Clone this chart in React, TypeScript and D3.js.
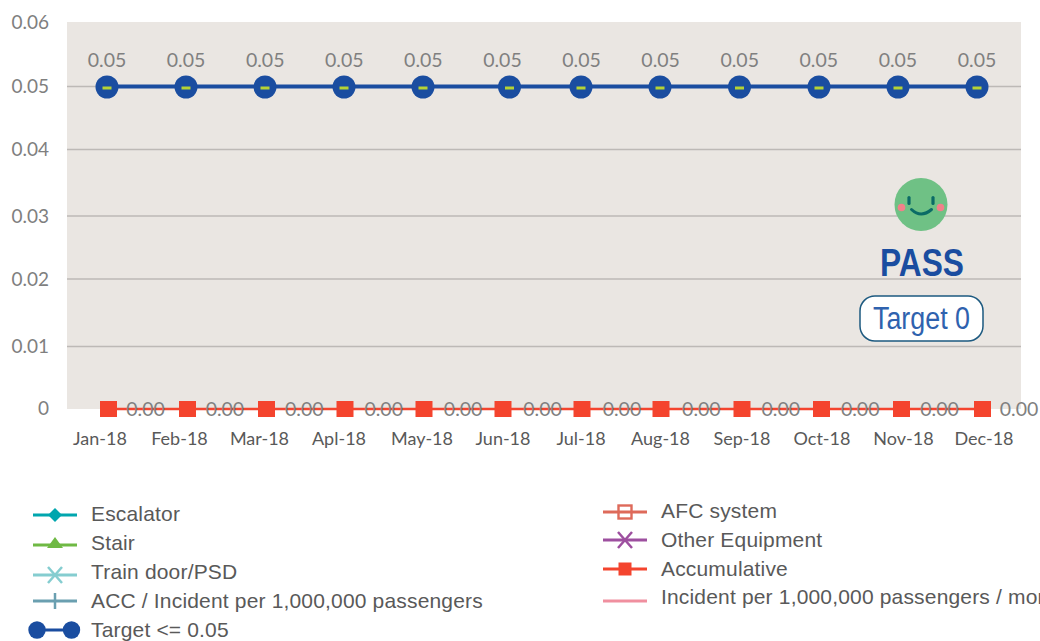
import React from 'react';
import * as d3 from 'd3';

const months = ['Jan-18', 'Feb-18', 'Mar-18', 'Apl-18', 'May-18', 'Jun-18', 'Jul-18', 'Aug-18', 'Sep-18', 'Oct-18', 'Nov-18', 'Dec-18'];
const targetValues = [0.05, 0.05, 0.05, 0.05, 0.05, 0.05, 0.05, 0.05, 0.05, 0.05, 0.05, 0.05];
const accumulativeValues = [0, 0, 0, 0, 0, 0, 0, 0, 0, 0, 0, 0];
const yTicks = [0, 0.01, 0.02, 0.03, 0.04, 0.05, 0.06];
const legendLeft = ['Escalator', 'Stair', 'Train door/PSD', 'ACC / Incident per 1,000,000 passengers', 'Target <= 0.05'];
const legendRight = ['AFC system', 'Other Equipment', 'Accumulative', 'Incident per 1,000,000 passengers / month'];

const axisFont = 'Lato, "Open Sans", sans-serif';
const legendFont = '"Liberation Sans", Arial, sans-serif';
const narrowFont = '"Liberation Sans Narrow", "Liberation Sans", sans-serif';

// the picture's gridlines and markers are not quite evenly spaced, so the scales carry the drift
const y = d3.scaleLinear().domain(yTicks).range([409, 346.5, 279, 216, 149.5, 86.5, 22]);
const xTarget = d3.scaleOrdinal<string, number>().domain(months).range([107, 186, 265, 344, 423, 509.5, 581, 660, 739.5, 819, 898, 977]);
const xTargetLabel = d3.scalePoint<string>().domain(months).range([107, 977]);
const xAccum = d3.scaleOrdinal<string, number>().domain(months).range([108.5, 187.5, 266.5, 345, 424, 503, 582, 661, 742, 821.5, 901.5, 982.5]);
const xAccumLabel = d3.scalePoint<string>().domain(months).range([145.5, 1019]);
const xMonth = d3.scaleOrdinal<string, number>().domain(months).range([100, 179.5, 259.5, 339, 422, 503, 581, 660.5, 742, 822, 903.5, 984]);

const lineTarget = d3.line<number>().x((_, i) => xTarget(months[i])).y(d => y(d));
const lineAccum = d3.line<number>().x((_, i) => xAccum(months[i])).y(d => y(d));

function LegendKey({ name, x0, cy }: { name: string; x0: number; cy: number }) {
  const x1 = x0 + 44;
  const cx = x0 + 22;
  const line = (color: string, width = 3) => <line x1={x0} x2={x1} y1={cy} y2={cy} stroke={color} strokeWidth={width} />;
  switch (name) {
    case 'Escalator':
      return <g>{line('#00a6ae')}<path d={`M${cx - 7},${cy}L${cx},${cy - 7}L${cx + 7},${cy}L${cx},${cy + 7}Z`} fill="#00a6ae" /></g>;
    case 'Stair':
      return <g>{line('#6fb944')}<path d={`M${cx - 8},${cy + 3}L${cx},${cy - 8}L${cx + 8},${cy + 3}Z`} fill="#6fb944" /></g>;
    case 'Train door/PSD':
      return <g>{line('#85cdd0')}<path d={`M${cx - 7},${cy - 8}L${cx + 7},${cy + 8}M${cx - 7},${cy + 8}L${cx + 7},${cy - 8}`} stroke="#85cdd0" strokeWidth={2.5} /></g>;
    case 'ACC / Incident per 1,000,000 passengers':
      return <g>{line('#6a9fb0')}<line x1={cx} x2={cx} y1={cy - 8} y2={cy + 8} stroke="#6a9fb0" strokeWidth={2.5} /></g>;
    case 'Target <= 0.05':
      return <g>{line('#1a4da0')}<circle cx={37} cy={cy} r={8.7} fill="#1a4da0" /><circle cx={71.5} cy={cy} r={8.7} fill="#1a4da0" /></g>;
    case 'AFC system':
      return <g>{line('#de6a5a')}<rect x={cx - 6.5} y={cy - 6.5} width={13} height={13} fill="none" stroke="#de6a5a" strokeWidth={2.4} /></g>;
    case 'Other Equipment':
      return <g>{line('#9d4f9f')}<path d={`M${cx - 7},${cy - 8}L${cx + 7},${cy + 8}M${cx - 7},${cy + 8}L${cx + 7},${cy - 8}`} stroke="#9d4f9f" strokeWidth={2.5} /></g>;
    case 'Accumulative':
      return <g>{line('#f4442e')}<rect x={cx - 6.5} y={cy - 6.5} width={13} height={13} fill="#f4442e" /></g>;
    default:
      return line('#f08f9f');
  }
}

export default function App() {
  return (
    <svg width={1040} height={641} style={{ position: 'absolute', left: 0, top: 0, background: '#fff' }}>
      <rect x={67} y={22} width={954} height={387} fill="#eae6e2" />

      {yTicks.filter(t => t > 0 && t < 0.06).map(t => (
        <line key={t} x1={67} x2={1021} y1={y(t)} y2={y(t)} stroke="#bdb9b6" strokeWidth={1.5} />
      ))}
      {yTicks.map(t => (
        <text key={t} x={49} y={y(t) + (t === 0 ? 5.5 : 6.5)} textAnchor="end" fontFamily={axisFont} fontSize={19} fill="#7f7f7f">
          {t === 0 ? '0' : d3.format('.2f')(t)}
        </text>
      ))}

      <path d={lineAccum(accumulativeValues)!} fill="none" stroke="#f4442e" strokeWidth={2.5} />
      {accumulativeValues.map((v, i) => (
        <g key={months[i]}>
          <rect x={xAccum(months[i]) - 8.5} y={y(v) - 8} width={17} height={16} fill="#f4442e" />
          <text x={xAccumLabel(months[i])!} y={y(v) + 6.5} textAnchor="middle" fontFamily={axisFont} fontSize={19.5} fill="#808080">
            {d3.format('.2f')(v)}
          </text>
        </g>
      ))}

      <path d={lineTarget(targetValues)!} fill="none" stroke="#1a4da0" strokeWidth={4} />
      {targetValues.map((v, i) => (
        <g key={months[i]}>
          <circle cx={xTarget(months[i])} cy={y(v) + 0.5} r={11.5} fill="#1a4da0" />
          <rect x={xTarget(months[i]) - 4.5} y={y(v)} width={9} height={3} fill="#b5d334" />
          <text x={xTargetLabel(months[i])!} y={y(v) - 20} textAnchor="middle" fontFamily={axisFont} fontSize={19.5} fill="#808080">
            {d3.format('.2f')(v)}
          </text>
        </g>
      ))}

      {months.map(m => (
        <text key={m} x={xMonth(m)} y={445} textAnchor="middle" fontFamily={axisFont} fontSize={18} fill="#595959">{m}</text>
      ))}

      {/* PASS badge */}
      <circle cx={921} cy={204.5} r={26.5} fill="#6fc185" />
      <circle cx={901.5} cy={207.5} r={3.8} fill="#f2808a" />
      <circle cx={940.5} cy={207.5} r={3.8} fill="#f2808a" />
      <line x1={909} x2={909} y1={197.5} y2={203.5} stroke="#0b6b66" strokeWidth={3.2} strokeLinecap="round" />
      <line x1={933} x2={933} y1={197.5} y2={203.5} stroke="#0b6b66" strokeWidth={3.2} strokeLinecap="round" />
      <path d="M911.5,209.5Q921,218.5 931.5,209.5" fill="none" stroke="#0b6b66" strokeWidth={3} strokeLinecap="round" />
      <text x={880} y={276} fontFamily={narrowFont} fontWeight="bold" fontSize={38} fill="#1a4da0" textLength={84} lengthAdjust="spacingAndGlyphs">PASS</text>
      <rect x={860} y={296} width={123} height={45} rx={15} fill="#fff" stroke="#1d5a80" strokeWidth={1.5} />
      <text x={873} y={329} fontFamily={narrowFont} fontSize={31} fill="#2f62ae" textLength={97} lengthAdjust="spacingAndGlyphs">Target 0</text>

      {legendLeft.map((name, i) => {
        const cy = [515, 545, 575, 601, 630][i];
        return (
          <g key={name}>
            <LegendKey name={name} x0={33} cy={cy} />
            <text x={91} y={[521, 550, 579, 608, 637][i]} fontFamily={legendFont} fontSize={21} letterSpacing={0.17} fill="#595959">{name}</text>
          </g>
        );
      })}
      {legendRight.map((name, i) => {
        const cy = [512, 540, 569, 601][i];
        return (
          <g key={name}>
            <LegendKey name={name} x0={603} cy={cy} />
            <text x={661} y={[518, 547, 576, 604][i]} fontFamily={legendFont} fontSize={21} letterSpacing={0.17} fill="#595959">{name}</text>
          </g>
        );
      })}
    </svg>
  );
}
